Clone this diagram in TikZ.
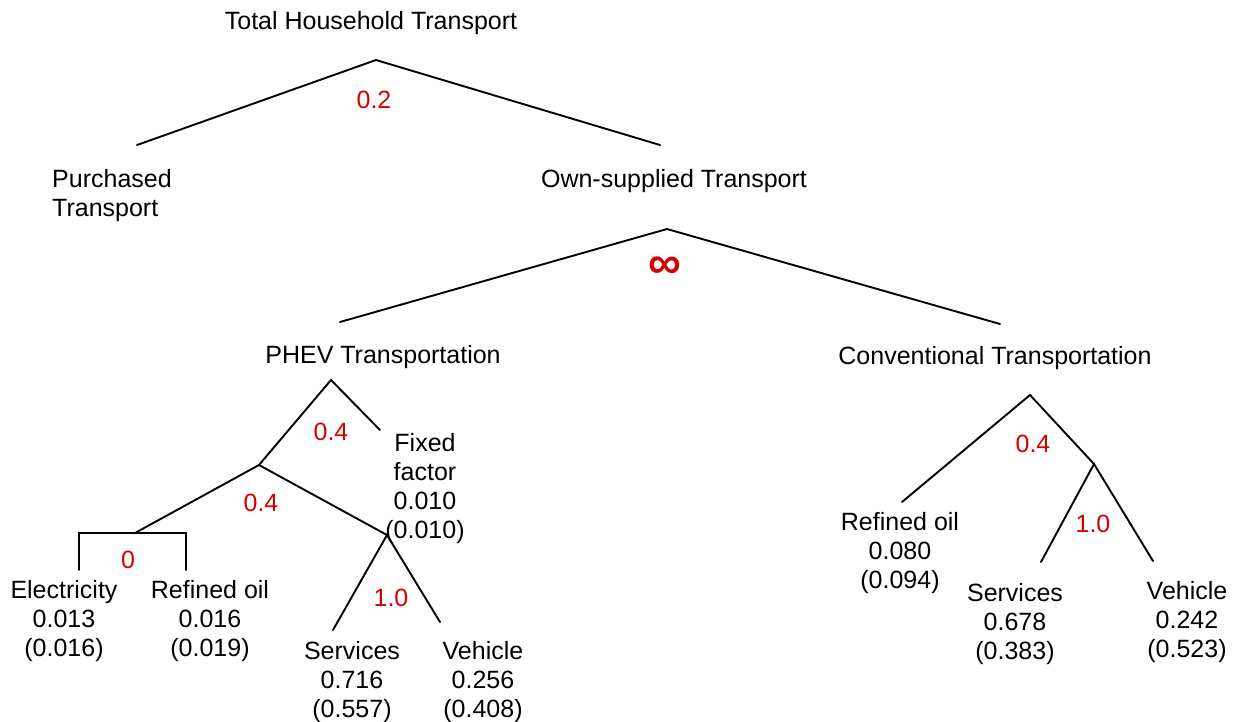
\documentclass[tikz,border=0pt]{standalone}
\usepackage{fontspec}
\setmainfont{Liberation Sans}
\definecolor{elasred}{RGB}{214,0,0}
\tikzset{
	branch/.style={line width=1.9pt, line cap=round},
	lbl/.style={align=center, anchor=north, inner sep=0pt, font=\fontsize{25}{29}\selectfont},
	elas/.style={inner sep=0pt, text=elasred, font=\fontsize{25}{29}\selectfont}
}

\begin{document}
\begin{tikzpicture}[x=1pt, y=-1pt]

	\useasboundingbox (0,0) rectangle (1237,721);

	% top level
	\node[lbl] (total) at (371,11) {Total Household Transport};
	\node[lbl, anchor=north west, align=left] (purch) at (52,169) {Purchased\\Transport};
	\node[lbl] (own) at (674,169) {Own-supplied Transport};

	\coordinate (topA) at (376,60);
	\coordinate (topL) at (137,145);
	\coordinate (topR) at (660,145);
	\draw[branch] (topL) -- (topA) -- (topR);
	\node[elas] (sTop) at (374,100) {0.2};

	% own-supplied split
	\node[lbl] (phev) at (383,345) {PHEV Transportation};
	\node[lbl] (conv) at (995,346) {Conventional Transportation};

	\coordinate (ownA) at (667,229);
	\coordinate (ownL) at (340,322);
	\coordinate (ownR) at (1000,324);
	\draw[branch] (ownL) -- (ownA) -- (ownR);
	\node[elas, font=\fontsize{46}{50}\selectfont\bfseries] (sOwn) at (665,268) {∞};

	% PHEV nest
	\node[lbl] (fixed) at (425,433) {Fixed\\factor\\0.010\\(0.010)};
	\node[lbl] (elec) at (64,580) {Electricity\\0.013\\(0.016)};
	\node[lbl] (oilP) at (210,580) {Refined oil\\0.016\\(0.019)};
	\node[lbl] (servP) at (352,641) {Services\\0.716\\(0.557)};
	\node[lbl] (vehP) at (483,641) {Vehicle\\0.256\\(0.408)};

	\coordinate (phevA) at (331,380);
	\coordinate (phevF) at (380,430);
	\coordinate (phevN) at (259,465);
	\coordinate (energyN) at (135,533);
	\coordinate (vsN) at (387,535);
	\draw[branch] (phevN) -- (phevA) -- (phevF);
	\draw[branch] (energyN) -- (phevN) -- (vsN);
	\draw[branch] (79,570) -- (79,533) -- (186,533) -- (186,570);
	\draw[branch] (333,630) -- (vsN) -- (440,622);
	\node[elas] (sPhev) at (331,432) {0.4};
	\node[elas] (sPhevN) at (261,503) {0.4};
	\node[elas] (sEnergy) at (128,560) {0};
	\node[elas] (sVsP) at (391,598) {1.0};

	% conventional nest
	\node[lbl] (oilC) at (900,512) {Refined oil\\0.080\\(0.094)};
	\node[lbl] (servC) at (1015,583) {Services\\0.678\\(0.383)};
	\node[lbl] (vehC) at (1187,581) {Vehicle\\0.242\\(0.523)};

	\coordinate (convA) at (1030,395);
	\coordinate (convN) at (1094,464);
	\draw[branch] (902,502) -- (convA) -- (convN);
	\draw[branch] (1041,562) -- (convN) -- (1153,561);
	\node[elas] (sConv) at (1033,444) {0.4};
	\node[elas] (sVsC) at (1093,524) {1.0};

\end{tikzpicture}
\end{document}
